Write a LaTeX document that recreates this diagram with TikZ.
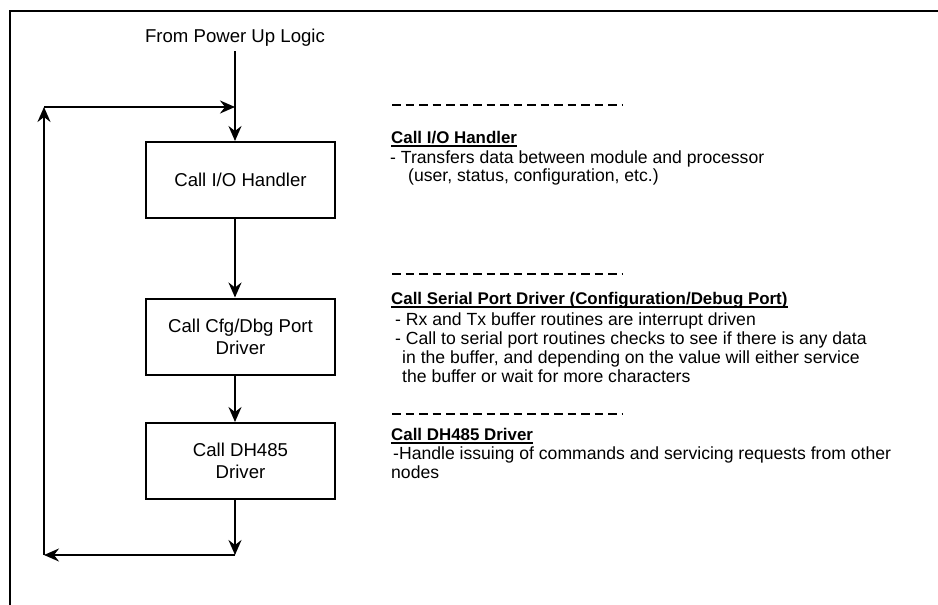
\documentclass[tikz,border=0pt]{standalone}
\usepackage{fontspec}
\setmainfont{Liberation Sans}
\usetikzlibrary{arrows.meta}
\begin{document}
\begin{tikzpicture}[x=1pt,y=-1pt,
  box/.style={draw,line width=2pt,minimum width=189pt,minimum height=76pt,
    inner sep=0pt,align=center,font=\fontsize{18.6}{22}\selectfont},
  flow/.style={line width=2pt,-{Stealth[length=15pt,width=13pt,inset=5pt]}},
  sep/.style={line width=1.4pt,dash pattern=on 8.5pt off 5pt},
  note/.style={anchor=base west,inner sep=0pt,font=\fontsize{17.6}{19}\selectfont},
  head/.style={anchor=base west,inner sep=0pt,font=\fontsize{16.9}{19}\selectfont\bfseries},
  uline/.style={line width=1.5pt}]
\useasboundingbox (0,0) rectangle (938,605);

% frame
\draw[line width=2.5pt] (10,605) -- (10,11) -- (938,11);

% entry label and loop corners
\node[anchor=base,inner sep=0pt,font=\fontsize{18.6}{22}\selectfont] (src) at (235,42) {From Power Up Logic};
\coordinate (top) at (235,51);
\coordinate (jt) at (235,107);
\coordinate (lt) at (44,107);
\coordinate (lb) at (44,555);
\coordinate (jb) at (235,555);

% process boxes
\node[box] (io)  at (240.5,180)   {Call I/O Handler};
\node[box] (cfg) at (240.5,336.5) {Call Cfg/Dbg Port\\Driver};
\node[box] (dh)  at (240.5,461)   {Call DH485\\Driver};

% flow
\draw[flow] (top) -- (io.north -| top);
\draw[flow] (lt) -- (jt);
\draw[flow] (io.south -| top) -- (cfg.north -| top);
\draw[flow] (cfg.south -| top) -- (dh.north -| top);
\draw[flow] (dh.south -| top) -- (jb);
\draw[flow] (jb) -- (lb);
\draw[flow] (lb) -- (lt);

% descriptions
\draw[sep] (392,105) -- (623,105);
\node[head] (h1) at (391,143) {Call I/O Handler};
\draw[uline] ([yshift=-3pt]h1.base west) -- ([yshift=-3pt]h1.base east);
\node[note] (d1a) at (390,163) {- Transfers data between module and processor};
\node[note] (d1b) at (408,181) {(user, status, configuration, etc.)};

\draw[sep] (392,274) -- (623,274);
\node[head] (h2) at (391,304) {Call Serial Port Driver (Configuration/Debug Port)};
\draw[uline] ([yshift=-3pt]h2.base west) -- ([yshift=-3pt]h2.base east);
\node[note] (d2a) at (395,325) {- Rx and Tx buffer routines are interrupt driven};
\node[note] (d2b) at (395,344) {- Call to serial port routines checks to see if there is any data};
\node[note] (d2c) at (402,363) {in the buffer, and depending on the value will either service};
\node[note] (d2d) at (402,382) {the buffer or wait for more characters};

\draw[sep] (392,414) -- (623,414);
\node[head] (h3) at (391,440) {Call DH485 Driver};
\draw[uline] ([yshift=-3pt]h3.base west) -- ([yshift=-3pt]h3.base east);
\node[note] (d3a) at (393,459) {-Handle issuing of commands and servicing requests from other};
\node[note] (d3b) at (391,478) {nodes};
\end{tikzpicture}
\end{document}
